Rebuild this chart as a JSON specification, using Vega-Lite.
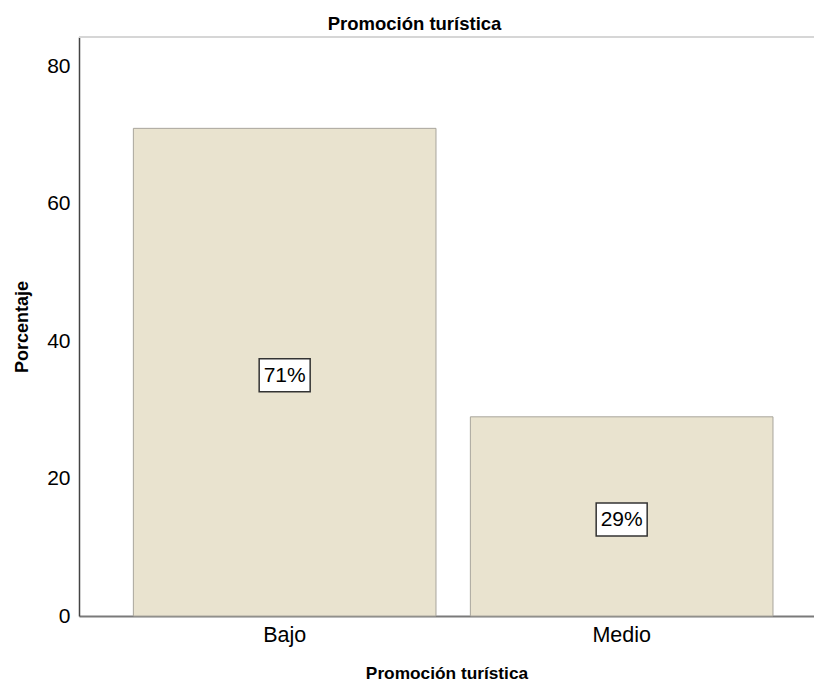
{
  "$schema": "https://vega.github.io/schema/vega-lite/v6.json",
  "width": 735,
  "height": 579,
  "autosize": {"type": "none"},
  "padding": {"left": 79, "top": 37, "right": 0, "bottom": 68},
  "background": "white",
  "title": {
    "text": "Promoción turística",
    "font": "Liberation Sans",
    "fontSize": 18.5,
    "fontWeight": "bold",
    "color": "#000000",
    "anchor": "middle",
    "dx": -32,
    "offset": 3
  },
  "config": {
    "view": {"stroke": null},
    "font": "Liberation Sans"
  },
  "data": {
    "values": [
      {"nivel": "Bajo", "porcentaje": 71, "etiqueta": "71%", "mitad": 35.5},
      {"nivel": "Medio", "porcentaje": 29, "etiqueta": "29%", "mitad": 14.5}
    ]
  },
  "encoding": {
    "x": {
      "field": "nivel",
      "type": "nominal",
      "sort": ["Bajo", "Medio"],
      "scale": {"paddingInner": 0.102, "paddingOuter": 0.1415, "align": 0.57},
      "axis": {
        "title": "Promoción turística",
        "titleFont": "Liberation Sans",
        "titleFontSize": 17.3,
        "titleFontWeight": "bold",
        "titleColor": "#000000",
        "titlePadding": 19,
        "labelFont": "Liberation Sans",
        "labelFontSize": 21.5,
        "labelColor": "#000000",
        "labelAngle": 0,
        "labelPadding": 8,
        "ticks": false,
        "domainColor": "#7a7a7a",
        "domainWidth": 2
      }
    }
  },
  "layer": [
    {
      "mark": {"type": "bar", "fill": "#e9e3cf", "stroke": "#a8a59c", "strokeWidth": 1},
      "encoding": {
        "y": {
          "field": "porcentaje",
          "type": "quantitative",
          "scale": {"domain": [0, 84.3], "nice": false, "zero": true},
          "axis": {
            "title": "Porcentaje",
            "titleFont": "Liberation Sans",
            "titleFontSize": 18,
            "titleFontWeight": "bold",
            "titleColor": "#000000",
            "titlePadding": 15,
            "labelFont": "Liberation Sans",
            "labelFontSize": 21,
            "labelColor": "#000000",
            "labelPadding": 9,
            "values": [0, 20, 40, 60, 80],
            "ticks": false,
            "grid": false,
            "domainColor": "#444444",
            "domainWidth": 1.5
          }
        }
      }
    },
    {
      "mark": {"type": "rule", "color": "#d6d6d6", "strokeWidth": 2},
      "encoding": {"y": {"datum": 84.3, "type": "quantitative"}, "x": {"value": 0}, "x2": {"value": 735}}
    },
    {
      "mark": {
        "type": "point",
        "shape": "M-1,-0.647L1,-0.647L1,0.647L-1,0.647Z",
        "size": 2601,
        "filled": true,
        "fill": "#ffffff",
        "stroke": "#333333",
        "strokeWidth": 1.5,
        "opacity": 1,
        "yOffset": 3
      },
      "encoding": {"y": {"field": "mitad", "type": "quantitative"}}
    },
    {
      "mark": {
        "type": "text",
        "font": "Liberation Sans",
        "fontSize": 21,
        "color": "#000000",
        "baseline": "middle",
        "align": "center",
        "yOffset": 4
      },
      "encoding": {
        "y": {"field": "mitad", "type": "quantitative"},
        "text": {"field": "etiqueta"}
      }
    }
  ]
}
